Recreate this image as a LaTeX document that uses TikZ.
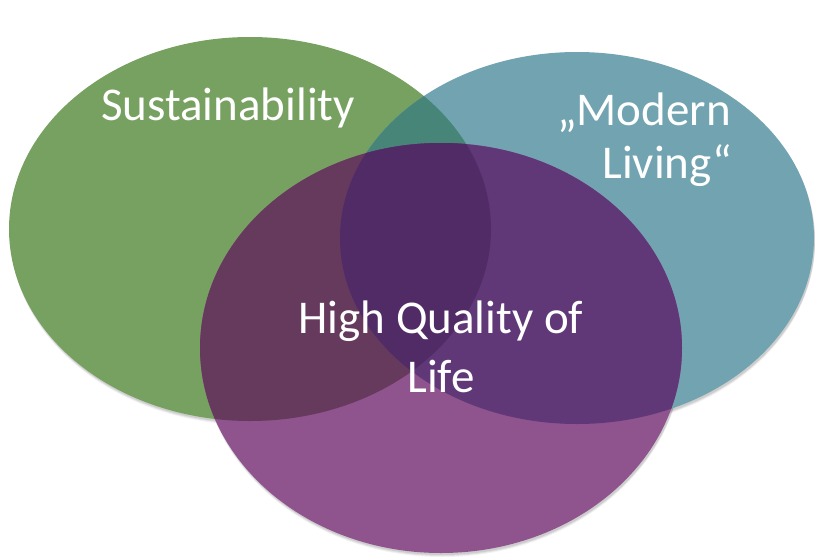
\documentclass[tikz,border=0pt]{standalone}
\usepackage{fontspec}
\setmainfont{Carlito}
\definecolor{cG}{HTML}{77A160}
\definecolor{cT}{HTML}{71A4B0}
\definecolor{cP}{HTML}{8F548E}
\definecolor{cGT}{HTML}{468578}
\definecolor{cGP}{HTML}{653A5C}
\definecolor{cTP}{HTML}{603878}
\definecolor{cGTP}{HTML}{512B66}
\begin{document}
\begin{tikzpicture}[x=1pt,y=-1pt,
  lbl/.style={text=white,font=\fontsize{47}{56}\selectfont,inner sep=0pt}]
\useasboundingbox (0,0) rectangle (815,557);
\def\Gpath{(250,229) ellipse [x radius=241,y radius=192]}
\def\Tpath{(577,238) ellipse [x radius=237,y radius=186]}
\def\Ppath{(441,348) ellipse [x radius=241,y radius=205]}
% soft shadows
\foreach \d/\o in {4/0.05,3/0.07,2/0.09}{
  \fill[black,opacity=\o] (251,229+\d) ellipse [x radius=241,y radius=192];
  \fill[black,opacity=\o] (578,238+\d) ellipse [x radius=237,y radius=186];
  \fill[black,opacity=\o] (442,348+\d) ellipse [x radius=241,y radius=205];
}
\fill[cG] \Gpath;
\fill[cT] \Tpath;
\fill[cP] \Ppath;
\begin{scope}
  \clip \Gpath;
  \fill[cGT] \Tpath;
  \fill[cGP] \Ppath;
\end{scope}
\begin{scope}
  \clip \Tpath;
  \fill[cTP] \Ppath;
\end{scope}
\begin{scope}
  \clip \Gpath;
  \clip \Tpath;
  \fill[cGTP] \Ppath;
\end{scope}
% text
\node[lbl,anchor=base] (sus) at (228,120) {Sustainability};
\node[lbl,anchor=base east] (ml1) at (731,125) {„Modern};
\node[lbl,anchor=base east] (ml2) at (732,178) {Living“};
\node[lbl,anchor=base] (hq1) at (441,333) {High Quality of};
\node[lbl,anchor=base] (hq2) at (441,392) {Life};
\end{tikzpicture}
\end{document}
